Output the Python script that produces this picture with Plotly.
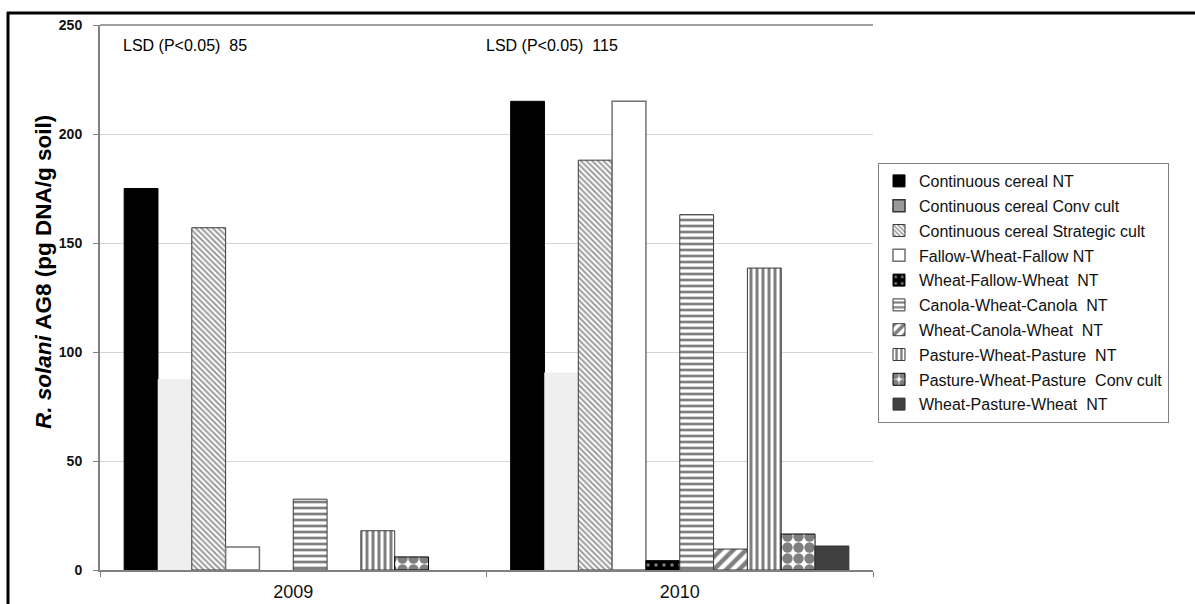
import plotly.graph_objects as go

years = ["2009", "2010"]
series = [
    "Continuous cereal NT",
    "Continuous cereal Conv cult",
    "Continuous cereal Strategic cult",
    "Fallow-Wheat-Fallow NT",
    "Wheat-Fallow-Wheat  NT",
    "Canola-Wheat-Canola  NT",
    "Wheat-Canola-Wheat  NT",
    "Pasture-Wheat-Pasture  NT",
    "Pasture-Wheat-Pasture  Conv cult",
    "Wheat-Pasture-Wheat  NT",
]
cc_nt = [175, 215]
cc_conv = [87.5, 90.5]
cc_strat = [157, 188]
fwf_nt = [10.5, 215]
wfw_nt = [0, 4.3]
cwc_nt = [32.5, 163]
wcw_nt = [0, 9.6]
pwp_nt = [18, 138.5]
pwp_conv = [6, 16.5]
wpw_nt = [0, 11]
values = [cc_nt, cc_conv, cc_strat, fwf_nt, wfw_nt, cwc_nt, wcw_nt, pwp_nt, pwp_conv, wpw_nt]
lsd_labels = ["LSD (P<0.05)  85", "LSD (P<0.05)  115"]

EDGE = "#3a3a3a"
styles = [
    dict(color="#000000", line=dict(color="#000000", width=1)),
    dict(color="#efefef", line=dict(color="#efefef", width=0.5)),
    dict(color="#ffffff", line=dict(color=EDGE, width=1),
         pattern=dict(shape="\\", fgcolor="#383838", bgcolor="#ffffff", size=4, solidity=0.5)),
    dict(color="#ffffff", line=dict(color="#707070", width=1.5)),
    dict(color="#000000", line=dict(color="#000000", width=1),
         pattern=dict(shape=".", fgcolor="#ffffff", bgcolor="#000000", size=8, solidity=0.15)),
    dict(color="#ffffff", line=dict(color=EDGE, width=1),
         pattern=dict(shape="-", fgcolor="#000000", bgcolor="#ffffff", size=6, solidity=0.45)),
    dict(color="#ffffff", line=dict(color=EDGE, width=1),
         pattern=dict(shape="/", fgcolor="#000000", bgcolor="#ffffff", size=9, solidity=0.5)),
    dict(color="#ffffff", line=dict(color=EDGE, width=1),
         pattern=dict(shape="|", fgcolor="#000000", bgcolor="#ffffff", size=6, solidity=0.5)),
    dict(color="#ffffff", line=dict(color="#000000", width=1),
         pattern=dict(shape=".", fgcolor="#000000", bgcolor="#ffffff", size=11, solidity=0.7)),
    dict(color="#404040", line=dict(color="#303030", width=1)),
]
legend_styles = [dict(s) for s in styles]
legend_styles[1] = dict(color="#999999", line=dict(color="#333333", width=1.5))

fig = go.Figure()
for name, vals, st in zip(series, values, styles):
    yv = [v if v != 0 else None for v in vals]
    fig.add_trace(go.Bar(x=years, y=yv, name=name, marker=st, showlegend=False,
                         hoverinfo="y+name"))
for i, (name, st) in enumerate(zip(series, legend_styles)):
    fig.add_trace(go.Bar(x=[None], y=[None], name=name, marker=st, showlegend=True,
                         legendgroup=f"g{i}", xaxis="x2", yaxis="y2"))

W, H = 1195, 604
L, R, T, B = 100, 322, 25, 34
pw, ph = W - L - R, H - T - B


def px(xp):
    return (xp - L) / pw


def py(yp):
    return (H - B - yp) / ph


fig.update_layout(
    width=W, height=H,
    margin=dict(l=L, r=R, t=T, b=B, autoexpand=False),
    paper_bgcolor="white", plot_bgcolor="white",
    barmode="group", bargap=0.125, bargroupgap=0,
    font=dict(family="Arial, Liberation Sans, sans-serif", color="#000000"),
    xaxis=dict(
        type="category", showline=True, linecolor="#808080", linewidth=2,
        ticks="outside", tickson="boundaries", ticklen=5, tickcolor="#808080", tickwidth=1,
        tickfont=dict(size=18, color="#111111"), ticklabelstandoff=4,
        showgrid=False, zeroline=False, automargin=False,
    ),
    yaxis=dict(
        range=[0, 250], tickvals=[0, 50, 100, 150, 200, 250],
        showline=True, linecolor="#808080", linewidth=2,
        ticks="outside", ticklen=5, tickcolor="#808080", tickwidth=1,
        tickfont=dict(size=14, color="#111111", weight="bold"), ticklabelstandoff=8,
        showgrid=True, gridcolor="#d4d4d4", gridwidth=1, zeroline=False, automargin=False,
    ),
    xaxis2=dict(visible=False, overlaying="x", range=[0, 1]),
    yaxis2=dict(visible=False, overlaying="y", range=[0, 1]),
    legend=dict(
        x=px(878), y=py(163), xanchor="left", yanchor="top",
        bordercolor="#808080", borderwidth=1, bgcolor="white",
        font=dict(size=16, color="#111111"), tracegroupgap=1,
        traceorder="grouped",
    ),
    showlegend=True,
)

annotations = [
    dict(text=lsd_labels[0], x=px(121), y=py(46), xref="paper", yref="paper",
         xanchor="left", yanchor="middle", showarrow=False, font=dict(size=16, color="#000000")),
    dict(text=lsd_labels[1], x=px(484), y=py(46), xref="paper", yref="paper",
         xanchor="left", yanchor="middle", showarrow=False, font=dict(size=16, color="#000000")),
    dict(text="<b><i>R. solani</i> AG8 (pg DNA/g soil)</b>", x=px(43), y=py(272),
         xref="paper", yref="paper", xanchor="center", yanchor="middle", textangle=-90,
         showarrow=False, font=dict(size=22.5, color="#000000")),
]
fig.update_layout(annotations=annotations)

shapes = [
    dict(type="line", xref="paper", yref="paper", x0=px(7), x1=px(W + 5), y0=py(13), y1=py(13),
         line=dict(color="#000000", width=3)),
    dict(type="line", xref="paper", yref="paper", x0=px(8), x1=px(8), y0=py(12), y1=py(H + 5),
         line=dict(color="#000000", width=3)),
    dict(type="line", xref="paper", yref="paper", x0=0, x1=1, y0=1, y1=1,
         line=dict(color="#a0a0a0", width=2)),
]
fig.update_layout(shapes=shapes)

fig.write_html("out.html")
